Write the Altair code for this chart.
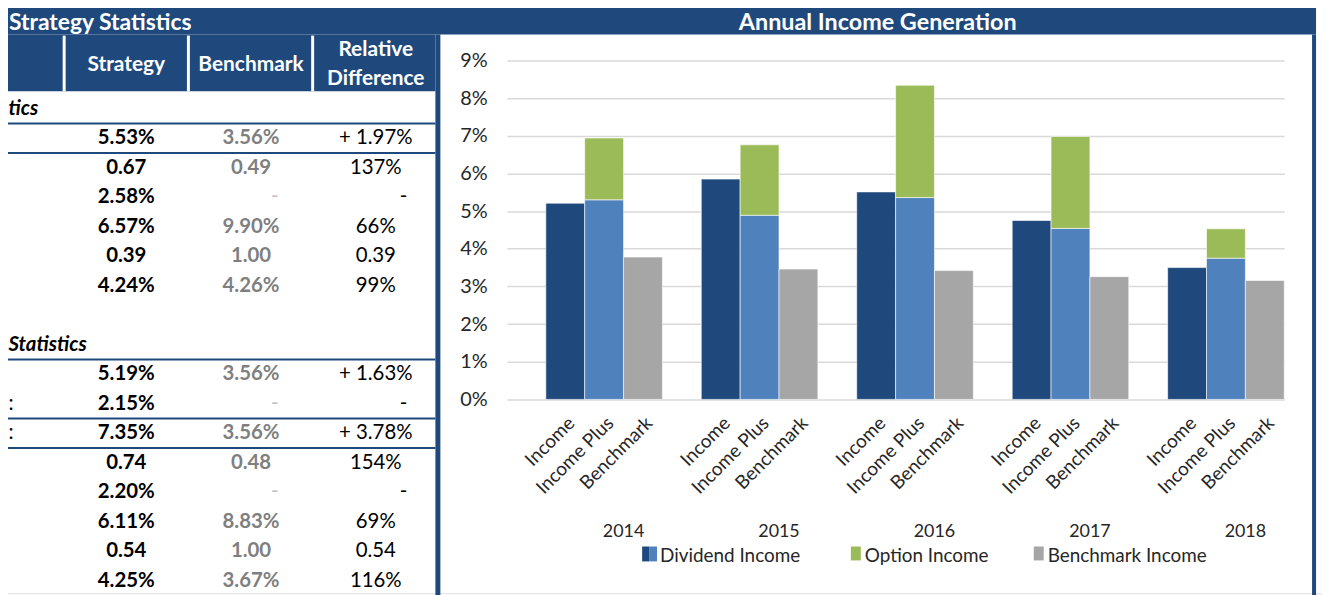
import altair as alt
import pandas as pd

NAVY = "#1F497D"
BLUE = "#4F81BD"
GREEN = "#9BBB59"
GRAY = "#A6A6A6"
FONT = "Lato"
TXT = "#262626"

# ---------------- chart data ----------------
years = ["2014", "2015", "2016", "2017", "2018"]
bar_groups = ["Income", "Income Plus", "Benchmark"]
income = [5.21, 5.85, 5.51, 4.75, 3.50]
plus_dividend = [5.30, 4.89, 5.36, 4.54, 3.75]
plus_option = [1.64, 1.87, 2.98, 2.44, 0.78]
benchmark = [3.78, 3.46, 3.42, 3.26, 3.16]
y_ticks = [0, 1, 2, 3, 4, 5, 6, 7, 8, 9]
legend_labels = ["Dividend Income", "Option Income", "Benchmark Income"]
chart_title = "Annual Income Generation"

# ---------------- table data ----------------
table_title = "Strategy Statistics"
col_headers = ["Strategy", "Benchmark", "Relative"]
col_headers_2 = ["", "", "Difference"]
section_titles = ["tics", "Statistics"]
sec1_strategy = ["5.53%", "0.67", "2.58%", "6.57%", "0.39", "4.24%"]
sec1_benchmark = ["3.56%", "0.49", "-", "9.90%", "1.00", "4.26%"]
sec1_relative = ["+ 1.97%", "137%", "-", "66%", "0.39", "99%"]
sec2_labels = ["", ":", ":", "", "", "", "", ""]
sec2_strategy = ["5.19%", "2.15%", "7.35%", "0.74", "2.20%", "6.11%", "0.54", "4.25%"]
sec2_benchmark = ["3.56%", "-", "3.56%", "0.48", "-", "8.83%", "1.00", "3.67%"]
sec2_relative = ["+ 1.63%", "-", "+ 3.78%", "154%", "-", "69%", "0.54", "116%"]

# ---------------- build tables for the library ----------------
slot_domain = []
for yr in years:
    slot_domain += [f"{yr}|"] + [f"{yr}|{g}" for g in bar_groups]

bar_rows = []
for i, yr in enumerate(years):
    bar_rows.append({"slot": f"{yr}|Income", "component": "Income", "value": income[i], "ord": 0})
    bar_rows.append({"slot": f"{yr}|Income Plus", "component": "Dividend", "value": plus_dividend[i], "ord": 0})
    bar_rows.append({"slot": f"{yr}|Income Plus", "component": "Option", "value": plus_option[i], "ord": 1})
    bar_rows.append({"slot": f"{yr}|Benchmark", "component": "Benchmark", "value": benchmark[i], "ord": 0})
bar_df = pd.DataFrame(bar_rows)
year_df = pd.DataFrame({"slot": [f"{yr}|Income Plus" for yr in years], "year": years})

cells = []
sec1_start, sec2_start = 1, 9
for k in range(len(sec1_strategy)):
    r = sec1_start + k
    cells += [{"row": r, "col": 1, "text": sec1_strategy[k]},
              {"row": r, "col": 2, "text": sec1_benchmark[k]},
              {"row": r, "col": 3, "text": sec1_relative[k]}]
for k in range(len(sec2_strategy)):
    r = sec2_start + k
    cells += [{"row": r, "col": 1, "text": sec2_strategy[k]},
              {"row": r, "col": 2, "text": sec2_benchmark[k]},
              {"row": r, "col": 3, "text": sec2_relative[k]}]
cell_df = pd.DataFrame(cells)
frag_df = pd.DataFrame({"row": [sec2_start + k for k in range(len(sec2_labels))],
                        "col": [0] * len(sec2_labels), "text": sec2_labels})
sect_df = pd.DataFrame({"row": [0, 8], "col": [0, 0], "text": section_titles})
line_df = pd.DataFrame({"b": [0.5, 1.5, 8.5, 10.5, 11.5]})
head_df = pd.DataFrame({"col": [1, 2, 3], "t1": col_headers, "t2": col_headers_2})

# ---------------- helpers ----------------
ONE = alt.Data(values=[{}])


def rect(x, x2, y, y2, color):
    return alt.Chart(ONE).mark_rect(color=color).encode(
        x=alt.value(x), x2=alt.value(x2), y=alt.value(y), y2=alt.value(y2))


def label(text, x, y, size, color, align="left", weight="normal"):
    return alt.Chart(ONE).mark_text(text=text, font=FONT, fontSize=size, color=color,
                                    align=align, baseline="middle", fontWeight=weight).encode(
        x=alt.value(x), y=alt.value(y))


# ---------------- decorations ----------------
deco = alt.layer(
    rect(0, 1324, 0, 33, NAVY),
    rect(0, 438, 33, 90, NAVY),
    rect(438, 443, 33, 600, NAVY),
    rect(1320, 1324, 33, 600, NAVY),
    rect(63, 66, 34, 90, "white"),
    rect(188, 191, 34, 90, "white"),
    rect(313, 316, 34, 90, "white"),
    label(table_title, 9, 21, 23, "white", weight="bold"),
    label(chart_title, 883, 21, 23.5, "white", align="center", weight="bold"),
)

# ---------------- table ----------------
tx = alt.Scale(domain=[1, 3], range=[127, 378], zero=False, nice=False)
ty = alt.Scale(domain=[0, 16], range=[107.5, 582.5], zero=False, nice=False)
X = alt.X("col:Q", scale=tx, axis=None)
Y = alt.Y("row:Q", scale=ty, axis=None)
FS = 20.5

cell_base = alt.Chart(cell_df)
table = alt.layer(
    alt.Chart(line_df).mark_rule(color=NAVY, strokeWidth=2).encode(
        y=alt.Y("b:Q", scale=ty, axis=None), x=alt.value(0), x2=alt.value(438)),
    cell_base.transform_filter("datum.col == 1").mark_text(
        font=FONT, fontSize=FS, fontWeight="bold", color="#000000", baseline="middle").encode(
        x=X, y=Y, text="text:N"),
    cell_base.transform_filter("datum.col == 2 && datum.text != '-'").mark_text(
        font=FONT, fontSize=FS, fontWeight="bold", color="#7F7F7F", baseline="middle").encode(
        x=X, y=Y, text="text:N"),
    cell_base.transform_filter("datum.col == 3 && datum.text != '-'").mark_text(
        font=FONT, fontSize=FS, color="#000000", baseline="middle").encode(
        x=X, y=Y, text="text:N"),
    cell_base.transform_filter("datum.col == 2 && datum.text == '-'").mark_text(
        font=FONT, fontSize=FS, color="#BFBFBF", baseline="middle", dx=24).encode(
        x=X, y=Y, text="text:N"),
    cell_base.transform_filter("datum.col == 3 && datum.text == '-'").mark_text(
        font=FONT, fontSize=FS, color="#000000", baseline="middle", dx=28).encode(
        x=X, y=Y, text="text:N"),
    alt.Chart(frag_df).mark_text(font=FONT, fontSize=FS, color="#000000", align="left",
                                 baseline="middle", dx=7).encode(x=X, y=Y, text="text:N"),
    alt.Chart(sect_df).mark_text(font=FONT, fontSize=FS, fontWeight="bold", fontStyle="italic",
                                 color="#000000", align="left", baseline="middle", dx=7).encode(
        x=X, y=Y, text="text:N"),
    alt.Chart(head_df).transform_filter("datum.t2 == ''").mark_text(
        font=FONT, fontSize=21, fontWeight="bold", color="white", baseline="middle").encode(
        x=X, y=alt.value(64), text="t1:N"),
    alt.Chart(head_df).transform_filter("datum.t2 != ''").mark_text(
        font=FONT, fontSize=21, fontWeight="bold", color="white", baseline="middle").encode(
        x=X, y=alt.value(49), text="t1:N"),
    alt.Chart(head_df).transform_filter("datum.t2 != ''").mark_text(
        font=FONT, fontSize=21, fontWeight="bold", color="white", baseline="middle").encode(
        x=X, y=alt.value(78), text="t2:N"),
)

# ---------------- bar chart ----------------
xs = alt.Scale(domain=slot_domain, range=[510, 1292], paddingInner=0, paddingOuter=0)
ys = alt.Scale(domain=[0, 9], range=[400, 59], nice=False, zero=True)

bars = alt.Chart(bar_df).mark_bar(stroke="white", strokeWidth=0.6).encode(
    x=alt.X("slot:N", scale=xs, sort=slot_domain,
            axis=alt.Axis(orient="bottom", offset=-195, labelExpr="split(datum.value, '|')[1]",
                          labelAngle=-45, labelFont=FONT, labelFontSize=19, labelColor=TXT,
                          labelOverlap=False, ticks=False, domain=False, labelPadding=14,
                          grid=False, title=None)),
    y=alt.Y("value:Q", stack="zero", scale=ys,
            axis=alt.Axis(orient="left", offset=-490, values=y_ticks, labelExpr="datum.value + '%'",
                          labelFont=FONT, labelFontSize=20, labelColor=TXT, ticks=False,
                          domain=False, labelPadding=0, grid=True, gridColor="#D9D9D9",
                          gridWidth=1.5, title=None)),
    color=alt.Color("component:N",
                    scale=alt.Scale(domain=["Income", "Dividend", "Option", "Benchmark"],
                                    range=[NAVY, BLUE, GREEN, GRAY]), legend=None),
    order=alt.Order("ord:Q"),
)
year_text = alt.Chart(year_df).mark_text(font=FONT, fontSize=18, color=TXT, baseline="middle").encode(
    x=alt.X("slot:N", scale=xs, bandPosition=1), y=alt.value(533), text="year:N")
bar_chart = alt.layer(bars, year_text)

# ---------------- legend ----------------
legend = alt.layer(
    rect(646, 653, 548, 563, NAVY),
    rect(653, 661, 548, 563, BLUE),
    label(legend_labels[0], 664, 558, 19, TXT),
    rect(856, 866, 548, 562, GREEN),
    label(legend_labels[1], 870, 558, 19, TXT),
    rect(1040, 1050, 548, 562, GRAY),
    label(legend_labels[2], 1054, 558, 19, TXT),
)

chart = alt.layer(deco, table, bar_chart, legend).resolve_scale(
    x="independent", y="independent"
).properties(
    width=1330, height=595,
    padding={"left": -8, "top": -8, "right": 0, "bottom": 0},
    autosize=alt.AutoSizeParams(type="none"),
).configure_view(strokeWidth=0).configure(background="white", font=FONT)

chart.save("out.html", embed_options={"renderer": "svg", "actions": False})
